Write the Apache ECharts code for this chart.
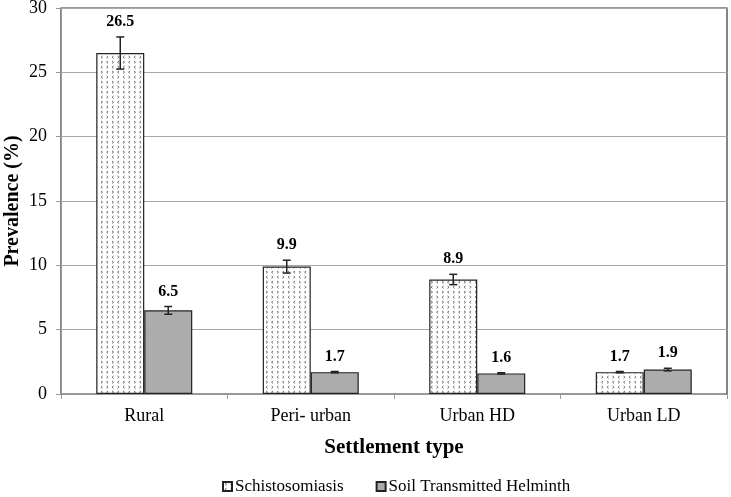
<!DOCTYPE html>
<html><head><meta charset="utf-8">
<script src="https://cdn.jsdelivr.net/npm/echarts@6/dist/echarts.min.js"></script>
<style>html,body{margin:0;padding:0;background:#fff}#c{width:731px;height:497px}</style>
</head><body><div id="c"></div>
<script>
const categories = ['Rural', 'Peri- urban', 'Urban HD', 'Urban LD'];
const schisto = [26.5, 9.9, 8.9, 1.7];
const schistoErr = [1.25, 0.5, 0.4, 0.05];
const sth = [6.5, 1.7, 1.6, 1.9];
const sthErr = [0.3, 0.05, 0.05, 0.1];
const seriesNames = ['Schistosomiasis', 'Soil Transmitted Helminth'];
const yTicks = [0, 5, 10, 15, 20, 25, 30];

const FONT = '"Liberation Serif", "Times New Roman", serif';

function makePattern() {
  const c = document.createElement('canvas');
  c.width = 11; c.height = 10;
  const g = c.getContext('2d');
  g.fillStyle = '#fff'; g.fillRect(0, 0, 11, 10);
  g.strokeStyle = '#666'; g.lineWidth = 0.9;
  function lt(x, y) { g.beginPath(); g.moveTo(x + 1.6, y); g.lineTo(x, y + 1.2); g.lineTo(x + 1.6, y + 2.4); g.stroke(); }
  function gt(x, y) { g.beginPath(); g.moveTo(x, y); g.lineTo(x + 1.6, y + 1.2); g.lineTo(x, y + 2.4); g.stroke(); }
  gt(2, 1); lt(7.5, 1);
  lt(2, 6); gt(7.5, 6);
  return c;
}
const pattern = { image: makePattern(), repeat: 'repeat' };

const BAR_W = 48;
function errSeries(vals, errs, sIdx) {
  return {
    type: 'custom', z: 10, silent: true,
    data: vals.map((v, i) => [i, v, errs[i]]),
    renderItem: function (params, api) {
      const i = api.value(0), v = api.value(1), e = api.value(2);
      const band = api.size([1, 0])[0];
      const w = band * BAR_W / 166.5;
      const off = (sIdx === 0 ? -0.5 : 0.5) * w;
      const hi = api.coord([i, v + e]);
      const lo = api.coord([i, v - e]);
      const x = hi[0] + off;
      const cap = 4;
      const st = { stroke: '#222', lineWidth: 1.5 };
      return {
        type: 'group',
        children: [
          { type: 'line', shape: { x1: x, y1: hi[1], x2: x, y2: lo[1] }, style: st },
          { type: 'line', shape: { x1: x - cap, y1: hi[1], x2: x + cap, y2: hi[1] }, style: st },
          { type: 'line', shape: { x1: x - cap, y1: lo[1], x2: x + cap, y2: lo[1] }, style: st },
          { type: 'text', x: x, y: hi[1] - 7,
            style: { text: v.toFixed(1), font: 'bold 16px ' + FONT, fill: '#000', align: 'center', verticalAlign: 'bottom' } }
        ]
      };
    }
  };
}

const chart = echarts.init(document.getElementById('c'), null, { renderer: 'canvas' });
chart.setOption({
  animation: false,
  backgroundColor: '#fff',
  grid: { left: 61, right: 4, top: 8, bottom: 103, containLabel: false, outerBoundsMode: 'none',
    show: true, borderColor: '#333', borderWidth: 1.2, backgroundColor: 'transparent' },
  legend: {
    top: 478, left: 222, padding: 0, itemWidth: 9, itemHeight: 9, itemGap: 32,
    icon: 'rect',
    textStyle: { fontFamily: FONT, fontSize: 17, color: '#000', padding: [0, 0, 0, -2] },
    data: seriesNames
  },
  xAxis: {
    type: 'category', data: categories,
    name: 'Settlement type', nameLocation: 'middle', nameGap: 43,
    nameTextStyle: { fontFamily: FONT, fontSize: 21, fontWeight: 'bold', color: '#000' },
    axisLine: { lineStyle: { color: '#999', width: 1 } },
    axisTick: { show: true, length: 5, lineStyle: { color: '#999' } },
    axisLabel: { fontFamily: FONT, fontSize: 18, color: '#000', margin: 13 }
  },
  yAxis: {
    type: 'value', min: 0, max: 30, interval: 5,
    name: 'Prevalence (%)', nameLocation: 'middle', nameGap: 38, nameRotate: 90,
    nameMoveOverlap: false,
    nameTextStyle: { fontFamily: FONT, fontSize: 20, fontWeight: 'bold', color: '#000' },
    axisLine: { show: true, lineStyle: { color: '#999', width: 1 } },
    axisTick: { show: true, length: 5, lineStyle: { color: '#999' } },
    axisLabel: { fontFamily: FONT, fontSize: 18, color: '#000', margin: 14,
      formatter: v => yTicks.includes(v) ? String(v) : '' },
    splitLine: { lineStyle: { color: '#a8a8a8', width: 1.2 } }
  },
  series: [
    { name: seriesNames[0], type: 'bar', data: schisto, barWidth: BAR_W, barGap: '0%',
      itemStyle: { color: pattern, borderColor: '#222', borderWidth: 1.2 } },
    { name: seriesNames[1], type: 'bar', data: sth, barWidth: BAR_W, barGap: '0%',
      itemStyle: { color: '#acacac', borderColor: '#222', borderWidth: 1.2 } },
    errSeries(schisto, schistoErr, 0),
    errSeries(sth, sthErr, 1)
  ]
});
</script></body></html>
